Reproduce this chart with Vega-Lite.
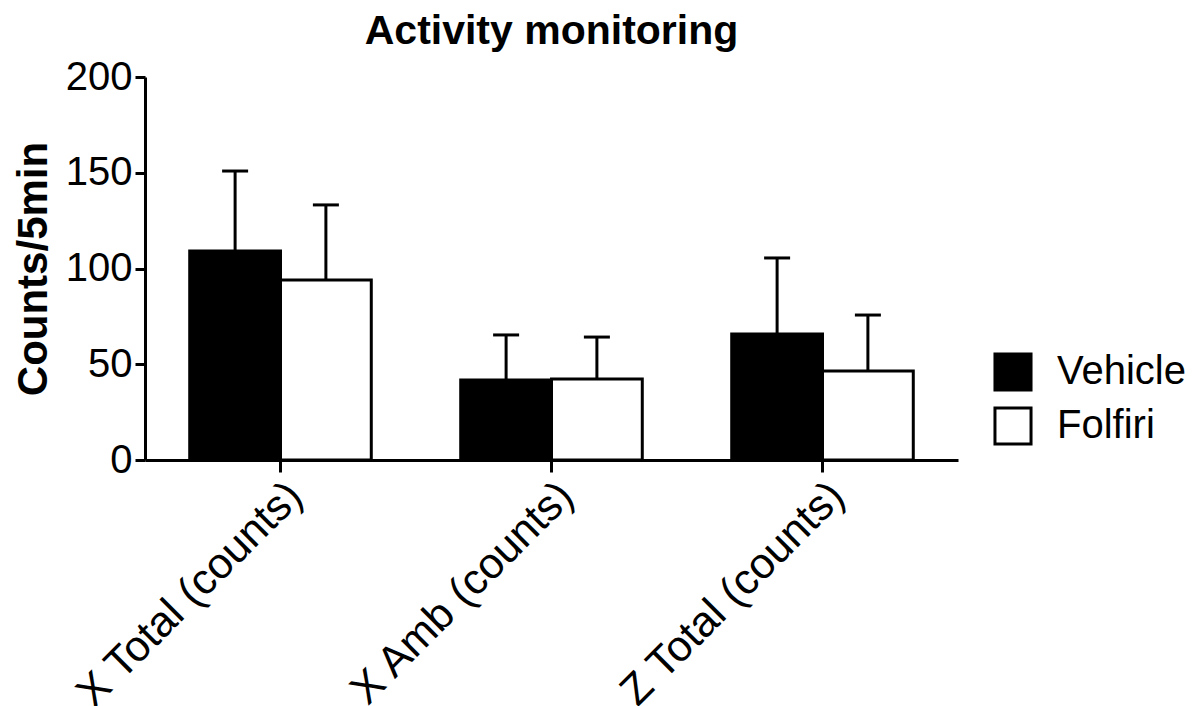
{
  "$schema": "https://vega.github.io/schema/vega-lite/v6.json",
  "autosize": {"type": "none"},
  "padding": {"left": 145, "top": 77, "right": 242, "bottom": 246},
  "width": 813,
  "height": 383,
  "background": "white",
  "title": {"text": "Activity monitoring", "font": "Liberation Sans", "fontSize": 41, "fontWeight": "bold", "color": "black", "anchor": "middle", "offset": 4},
  "data": {"values": [
    {"measure": "X Total (counts)", "group": "Vehicle", "mean": 109.1, "upper": 150.9},
    {"measure": "X Total (counts)", "group": "Folfiri", "mean": 94.0, "upper": 133.2},
    {"measure": "X Amb (counts)", "group": "Vehicle", "mean": 41.8, "upper": 65.3},
    {"measure": "X Amb (counts)", "group": "Folfiri", "mean": 42.3, "upper": 64.2},
    {"measure": "Z Total (counts)", "group": "Vehicle", "mean": 65.8, "upper": 105.5},
    {"measure": "Z Total (counts)", "group": "Folfiri", "mean": 46.5, "upper": 75.7}
  ]},
  "encoding": {
    "x": {"field": "measure", "type": "nominal", "sort": null,
      "scale": {"paddingInner": 0.33, "paddingOuter": 0.165},
      "axis": {"title": null, "labelAngle": -45, "labelFont": "Liberation Sans", "labelFontSize": 43, "labelColor": "black", "labelLimit": 0,
        "domainColor": "black", "domainWidth": 3, "tickColor": "black", "tickWidth": 3, "tickSize": 12, "labelPadding": 2}},
    "xOffset": {"field": "group", "type": "nominal", "sort": ["Vehicle", "Folfiri"], "scale": {"paddingInner": 0}}
  },
  "layer": [
    {
      "mark": {"type": "rule", "stroke": "black", "strokeWidth": 3},
      "encoding": {
        "y": {"field": "mean", "type": "quantitative"},
        "y2": {"field": "upper"}
      }
    },
    {
      "mark": {"type": "tick", "color": "black", "thickness": 3, "size": 26, "opacity": 1},
      "encoding": {
        "y": {"field": "upper", "type": "quantitative"}
      }
    },
    {
      "mark": {"type": "bar", "stroke": "black", "strokeWidth": 3, "opacity": 1},
      "encoding": {
        "y": {"field": "mean", "type": "quantitative",
          "scale": {"domain": [0, 200], "nice": false},
          "axis": {"title": "Counts/5min", "titleFont": "Liberation Sans", "titleFontSize": 42, "titleFontWeight": "bold", "titleColor": "black", "titlePadding": 10,
            "values": [0, 50, 100, 150, 200], "grid": false, "labelFont": "Liberation Sans", "labelFontSize": 40, "labelColor": "black", "labelPadding": 3,
            "domainColor": "black", "domainWidth": 3, "tickColor": "black", "tickWidth": 3, "tickSize": 10}},
        "fill": {"field": "group", "type": "nominal", "sort": ["Vehicle", "Folfiri"],
          "scale": {"domain": ["Vehicle", "Folfiri"], "range": ["black", "white"]},
          "legend": {"title": null, "orient": "none", "legendX": 848, "legendY": 275, "symbolType": "square", "symbolSize": 1300,
            "symbolStrokeColor": "black", "symbolStrokeWidth": 3, "labelFont": "Liberation Sans", "labelFontSize": 40, "labelColor": "black",
            "labelOffset": 24, "rowPadding": 4}}
      }
    }
  ],
  "config": {"view": {"stroke": null}}
}
